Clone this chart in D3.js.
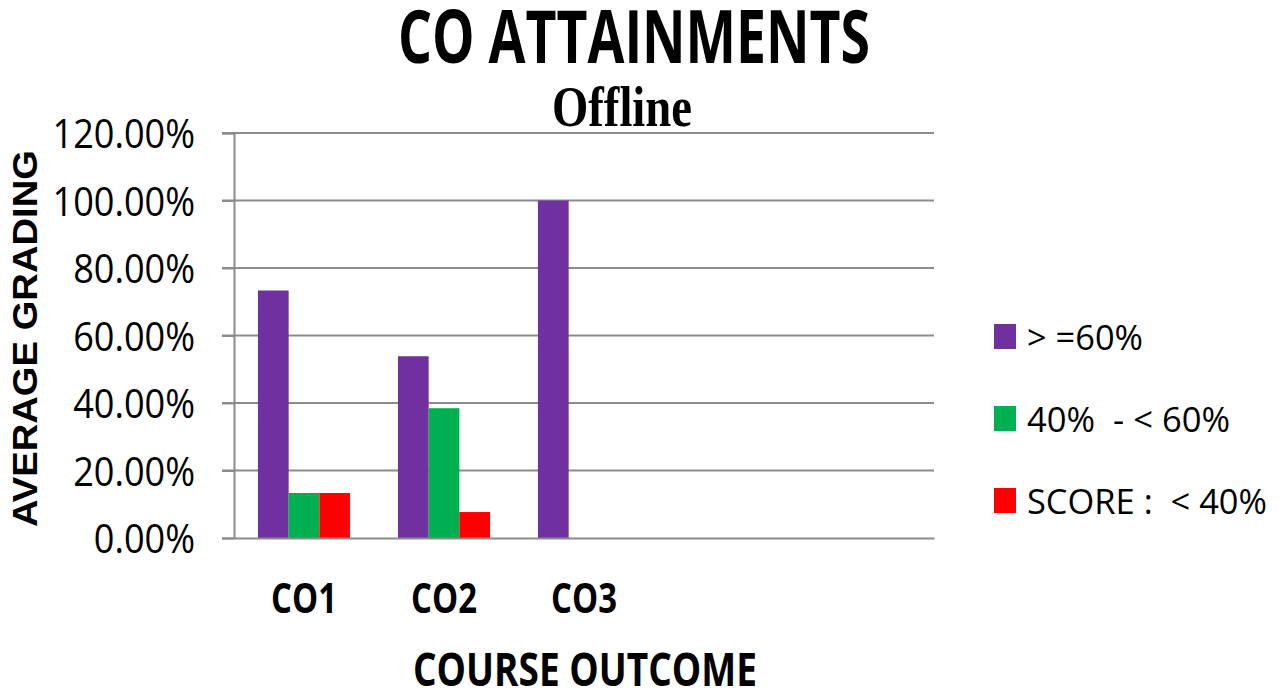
<!DOCTYPE html>
<html lang="en">
<head>
  <meta charset="UTF-8">
  <title>CO Attainments</title>
  <script src="https://d3js.org/d3.v7.min.js"></script>
  <style>
    body { margin: 0; background: #fff; }
    text { font-family: "Open Sans", sans-serif; fill: #000; }
    .legend text { white-space: pre; }
  </style>
</head>
<body>
  <svg width="1282" height="692"></svg>
  <script>
    // data
    const categories = ["CO1", "CO2", "CO3", "", ""];
    const seriesNames = ["> =60%", "40%  - < 60%", "SCORE :  < 40%"];
    const aboveSixty = [73.33, 53.85, 100, null, null];
    const fortyToSixty = [13.33, 38.46, 0, null, null];
    const belowForty = [13.33, 7.69, 0, null, null];
    const yTicks = [0, 20, 40, 60, 80, 100, 120];

    const series = [aboveSixty, fortyToSixty, belowForty];
    const colors = ["#7030A0", "#00B050", "#FF0000"];
    const gridColor = "#8c8c8c";

    const svg = d3.select("svg"),
          margin = {top: 133, right: 348, bottom: 154, left: 234},
          width = +svg.attr("width") - margin.left - margin.right,
          height = +svg.attr("height") - margin.top - margin.bottom,
          g = svg.append("g").attr("transform", `translate(${margin.left},${margin.top})`);

    // narrow (Calibri-like) look: squeeze text to the reference's width
    function squeeze(sel, w) {
      sel.attr("textLength", w).attr("lengthAdjust", "spacingAndGlyphs");
    }

    const x0 = d3.scaleBand()
      .domain(d3.range(categories.length))
      .range([0, width]);

    const x1 = d3.scaleBand()
      .domain(d3.range(series.length))
      .range([0, x0.bandwidth()])
      .paddingOuter(0.78)
      .paddingInner(0);

    const y = d3.scaleLinear()
      .domain([0, 120])
      .range([height, 0]);

    // gridlines
    g.append("g")
      .selectAll("line")
      .data(yTicks.slice(1))
      .join("line")
      .attr("x1", -12).attr("x2", width)
      .attr("y1", d => y(d)).attr("y2", d => y(d))
      .attr("stroke", gridColor)
      .attr("stroke-width", 2);

    // bars
    series.forEach((vals, s) => {
      g.append("g")
        .selectAll("rect")
        .data(vals.map((v, i) => ({i, v})).filter(d => d.v))
        .join("rect")
        .attr("x", d => x0(d.i) + x1(s))
        .attr("width", x1.bandwidth())
        .attr("y", d => y(d.v))
        .attr("height", d => height - y(d.v))
        .attr("fill", colors[s]);
    });

    // y axis
    const yAxis = g.append("g")
      .call(d3.axisLeft(y).tickValues(yTicks).tickSize(12).tickPadding(27)
        .tickFormat(d => d.toFixed(2) + "%"));
    yAxis.select(".domain").attr("stroke", gridColor).attr("stroke-width", 2);
    yAxis.selectAll(".tick line").attr("stroke", gridColor).attr("stroke-width", 2);
    yAxis.selectAll(".tick text")
      .attr("x", null)
      .attr("transform", "translate(-39,0) scale(0.88,1)")
      .attr("font-size", 41)
      .attr("fill", "#000")
      .attr("dy", "0.36em");

    // x axis
    const xAxis = g.append("g")
      .attr("transform", `translate(0,${height})`)
      .call(d3.axisBottom(x0).tickSize(0).tickPadding(75).tickFormat(i => categories[i]));
    xAxis.select(".domain").attr("stroke", gridColor).attr("stroke-width", 2);
    xAxis.selectAll(".tick text")
      .attr("font-size", 42)
      .attr("font-weight", "bold")
      .attr("fill", "#000")
      .attr("dy", 0)
      .filter(function() { return this.textContent !== ""; })
      .call(squeeze, 66);

    // titles
    svg.append("text")
      .attr("x", 634).attr("y", 63)
      .attr("text-anchor", "middle")
      .attr("font-size", 73)
      .attr("font-weight", "bold")
      .text("CO ATTAINMENTS")
      .call(squeeze, 472);

    svg.append("text")
      .attr("transform", "translate(622,126) scale(1,1.23)")
      .attr("text-anchor", "middle")
      .style("font-family", "'Liberation Serif', serif")
      .attr("font-size", 47)
      .attr("font-weight", "bold")
      .text("Offline")
      .call(squeeze, 140);

    svg.append("text")
      .attr("transform", `translate(37,${margin.top + height / 2 + 3}) rotate(-90)`)
      .attr("text-anchor", "middle")
      .style("font-family", "'Liberation Sans', Arial, sans-serif")
      .attr("font-size", 35)
      .attr("font-weight", "bold")
      .text("AVERAGE GRADING")
      .call(squeeze, 377);

    svg.append("text")
      .attr("x", 585).attr("y", 686)
      .attr("text-anchor", "middle")
      .attr("font-size", 47)
      .attr("font-weight", "bold")
      .text("COURSE OUTCOME")
      .call(squeeze, 344);

    // legend
    const legendWidths = [116, 203, 240];
    const legend = svg.append("g")
      .attr("class", "legend")
      .attr("transform", "translate(994,324)");
    seriesNames.forEach((name, i) => {
      const row = legend.append("g").attr("transform", `translate(0,${i * 82})`);
      row.append("rect")
        .attr("width", 22).attr("height", 25)
        .attr("fill", colors[i]);
      row.append("text")
        .attr("x", 33).attr("y", 26)
        .attr("font-size", 35)
        .text(name)
        .call(squeeze, legendWidths[i]);
    });
  </script>
</body>
</html>
